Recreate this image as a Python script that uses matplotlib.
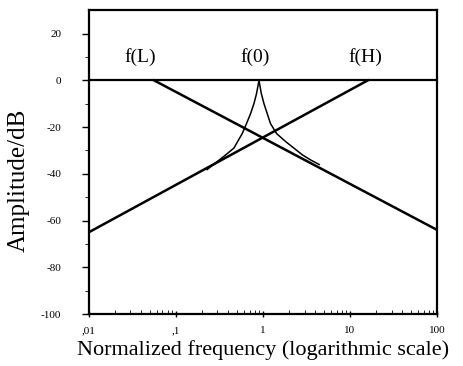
import numpy as np
import matplotlib.pyplot as plt
from matplotlib.ticker import FixedLocator, LogLocator, NullFormatter

plt.rcParams['font.family'] = ['Liberation Serif', 'DejaVu Serif']
plt.rcParams['axes.unicode_minus'] = False

# asymptote lines (first order, 20 dB/decade)
hp_freq = [0.01, 16]
hp_db = [-65, 0]
lp_freq = [0.056, 100]
lp_db = [0, -64]

# resonance curve
peak_freq = [0.228, 0.297, 0.37, 0.463, 0.577, 0.647, 0.719, 0.787, 0.844, 0.9,
             0.956, 1.027, 1.12, 1.22, 1.435, 1.82, 2.3, 2.84, 3.5, 4.42]
peak_db = [-38.2, -34.8, -32.0, -29.0, -22.8, -18.5, -14.3, -10.0, -5.6, 0,
           -5.6, -10.0, -14.3, -18.5, -22.8, -26.2, -29.2, -31.9, -34.0, -36.0]

ref_freq = [0.01, 100]
ref_db = [0, 0]

labels = ['f(L)', 'f(0)', 'f(H)']
label_freq = [0.039, 0.81, 15]
label_db = [10, 10, 10]

xticks = [0.01, 0.1, 1, 10, 100]
xticklabels = [',01', ',1', '1', '10', '100']
yticks = [20, 0, -20, -40, -60, -80, -100]

fig = plt.figure(figsize=(4.63, 3.66), dpi=100)
ax = fig.add_axes([0.192, 0.142, 0.752, 0.83])

ax.plot(ref_freq, ref_db, color='black', lw=1.6)
ax.plot(hp_freq, hp_db, color='black', lw=1.8)
ax.plot(lp_freq, lp_db, color='black', lw=1.8)
ax.plot(peak_freq, peak_db, color='black', lw=1.1)

for t, fx, fy in zip(labels, label_freq, label_db):
    ax.text(fx, fy, t, ha='center', va='center', fontsize=14)

ax.set_xscale('log')
ax.set_xlim(0.01, 100)
ax.set_ylim(-100, 30)
ax.xaxis.set_major_locator(FixedLocator(xticks))
ax.set_xticklabels(xticklabels)
ax.xaxis.set_minor_locator(LogLocator(base=10, subs=np.arange(2, 10)))
ax.xaxis.set_minor_formatter(NullFormatter())
ax.set_yticks(yticks)
ax.yaxis.set_minor_locator(FixedLocator(np.arange(-90, 30, 20)))

ax.tick_params(axis='both', which='major', labelsize=8, length=5, width=1)
ax.tick_params(axis='y', which='major', pad=15)
ax.tick_params(axis='x', which='major', direction='inout', pad=6)
ax.tick_params(axis='x', which='minor', direction='in', length=3)
ax.tick_params(axis='y', which='minor', length=3)
for s in ax.spines.values():
    s.set_linewidth(1.6)

ax.set_ylabel('Amplitude/dB', fontsize=18)
ax.yaxis.set_label_coords(-0.17, 0.44)
ax.set_xlabel('Normalized frequency (logarithmic scale)', fontsize=16, labelpad=4)

fig.savefig('out.png', dpi=100)
